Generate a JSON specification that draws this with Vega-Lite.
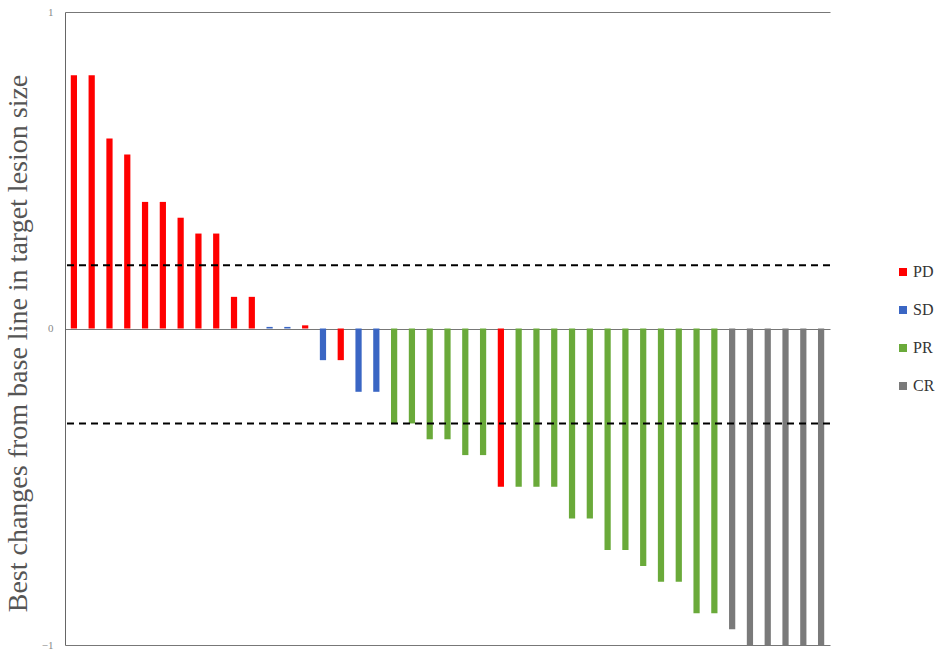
{
  "$schema": "https://vega.github.io/schema/vega-lite/v6.json",
  "width": 765,
  "height": 633,
  "autosize": {"type": "none"},
  "padding": {"left": 65, "top": 12, "right": 115, "bottom": 10},
  "background": "white",
  "config": {"view": {"stroke": null}, "font": "Liberation Serif"},
  "datasets": {
    "bars": [
      {"id": 1, "response": "PD", "change": 0.8},
      {"id": 2, "response": "PD", "change": 0.8},
      {"id": 3, "response": "PD", "change": 0.6},
      {"id": 4, "response": "PD", "change": 0.55},
      {"id": 5, "response": "PD", "change": 0.4},
      {"id": 6, "response": "PD", "change": 0.4},
      {"id": 7, "response": "PD", "change": 0.35},
      {"id": 8, "response": "PD", "change": 0.3},
      {"id": 9, "response": "PD", "change": 0.3},
      {"id": 10, "response": "PD", "change": 0.1},
      {"id": 11, "response": "PD", "change": 0.1},
      {"id": 12, "response": "SD", "change": 0.005},
      {"id": 13, "response": "SD", "change": 0.005},
      {"id": 14, "response": "PD", "change": 0.01},
      {"id": 15, "response": "SD", "change": -0.1},
      {"id": 16, "response": "PD", "change": -0.1},
      {"id": 17, "response": "SD", "change": -0.2},
      {"id": 18, "response": "SD", "change": -0.2},
      {"id": 19, "response": "PR", "change": -0.3},
      {"id": 20, "response": "PR", "change": -0.3},
      {"id": 21, "response": "PR", "change": -0.35},
      {"id": 22, "response": "PR", "change": -0.35},
      {"id": 23, "response": "PR", "change": -0.4},
      {"id": 24, "response": "PR", "change": -0.4},
      {"id": 25, "response": "PD", "change": -0.5},
      {"id": 26, "response": "PR", "change": -0.5},
      {"id": 27, "response": "PR", "change": -0.5},
      {"id": 28, "response": "PR", "change": -0.5},
      {"id": 29, "response": "PR", "change": -0.6},
      {"id": 30, "response": "PR", "change": -0.6},
      {"id": 31, "response": "PR", "change": -0.7},
      {"id": 32, "response": "PR", "change": -0.7},
      {"id": 33, "response": "PR", "change": -0.75},
      {"id": 34, "response": "PR", "change": -0.8},
      {"id": 35, "response": "PR", "change": -0.8},
      {"id": 36, "response": "PR", "change": -0.9},
      {"id": 37, "response": "PR", "change": -0.9},
      {"id": 38, "response": "CR", "change": -0.95},
      {"id": 39, "response": "CR", "change": -1.0},
      {"id": 40, "response": "CR", "change": -1.0},
      {"id": 41, "response": "CR", "change": -1.0},
      {"id": 42, "response": "CR", "change": -1.0},
      {"id": 43, "response": "CR", "change": -1.0}
    ],
    "thresholds": [
      {"level": 0.2},
      {"level": -0.3}
    ]
  },
  "layer": [
    {
      "data": {"name": "bars"},
      "mark": {"type": "bar", "width": {"band": 0.35}},
      "encoding": {
        "x": {
          "field": "id",
          "type": "ordinal",
          "sort": null,
          "scale": {"paddingInner": 0, "paddingOuter": 0},
          "axis": null
        },
        "y": {
          "field": "change",
          "type": "quantitative",
          "scale": {"domain": [-1, 1], "nice": false},
          "axis": {
            "values": [-1, 0, 1],
            "labelExpr": "format(datum.value, 'd')",
            "title": "Best changes from base line in target lesion size",
            "titleFont": "Liberation Serif",
            "titleFontWeight": "normal",
            "titleFontSize": 28,
            "titleColor": "#555555",
            "titlePadding": 9,
            "titleY": 331,
            "labelFont": "Liberation Serif",
            "labelFontSize": 11,
            "labelColor": "#888888",
            "labelPadding": 12,
            "ticks": false,
            "domainColor": "#666666",
            "gridColor": "#777777",
            "gridOpacity": 1,
            "gridWidth": 1
          }
        },
        "color": {
          "field": "response",
          "type": "nominal",
          "scale": {
            "domain": ["PD", "SD", "PR", "CR"],
            "range": ["#ff0000", "#3a66c4", "#6aaa3a", "#7a7a7a"]
          },
          "legend": {
            "title": null,
            "orient": "none",
            "legendX": 830,
            "legendY": 252,
            "symbolType": "square",
            "symbolSize": 64,
            "symbolStrokeWidth": 0,
            "labelFont": "Liberation Serif",
            "labelFontSize": 16,
            "labelColor": "#333333",
            "labelOffset": 2,
            "rowPadding": 22
          }
        }
      }
    },
    {
      "data": {"name": "thresholds"},
      "mark": {"type": "rule", "color": "#000000", "strokeWidth": 2, "strokeDash": [7, 5]},
      "encoding": {
        "y": {"field": "level", "type": "quantitative"}
      }
    }
  ]
}
